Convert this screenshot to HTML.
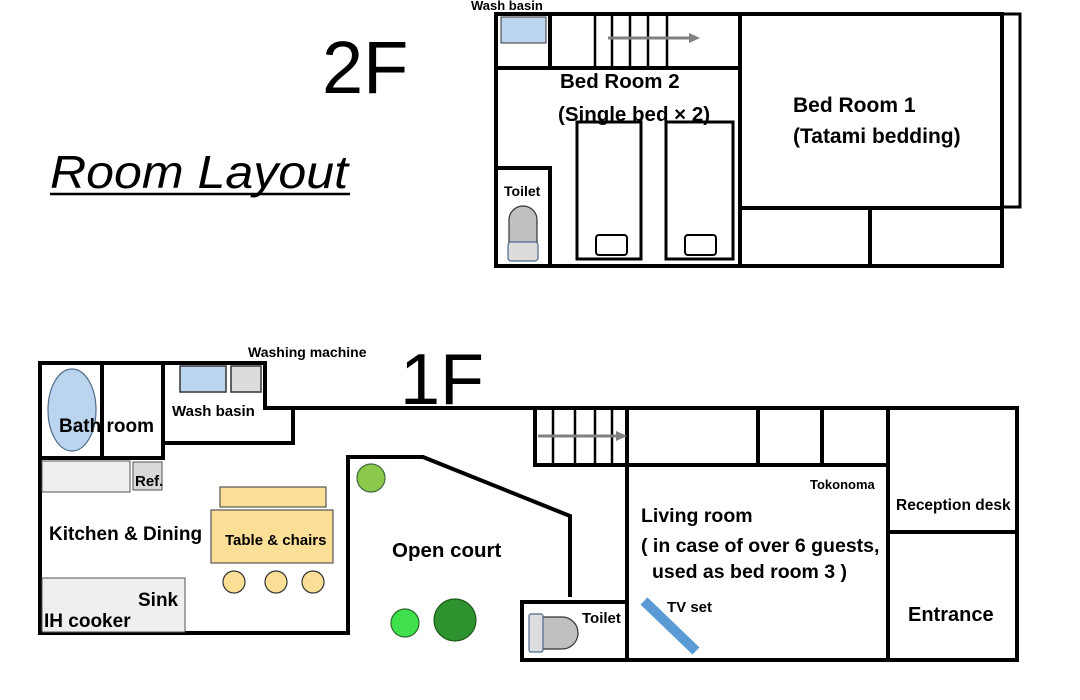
<!DOCTYPE html>
<html><head><meta charset="utf-8"><style>
html,body{margin:0;padding:0;background:#fff;}
svg{display:block;}
text{font-family:"Liberation Sans","DejaVu Sans",sans-serif;font-weight:bold;fill:#000;}
text.big{font-weight:normal;font-family:"Liberation Sans",sans-serif;}
</style></head><body>
<svg width="1080" height="700" viewBox="0 0 1080 700" xmlns="http://www.w3.org/2000/svg">
<g fill="none" stroke="#000" stroke-width="4">
<rect x="496" y="14" width="506" height="252"/>
<rect x="1002" y="14" width="18" height="193" stroke-width="3"/>
<line x1="550" y1="14" x2="550" y2="67"/>
<line x1="496" y1="68" x2="740" y2="68"/>
<line x1="740" y1="14" x2="740" y2="266"/>
<line x1="740" y1="208" x2="1002" y2="208"/>
<line x1="870" y1="208" x2="870" y2="266"/>
<polyline points="496,168 550,168 550,266"/>
<g stroke-width="2.5"><line x1="595" y1="14" x2="595" y2="67"/><line x1="612" y1="14" x2="612" y2="67"/><line x1="630" y1="14" x2="630" y2="67"/><line x1="648" y1="14" x2="648" y2="67"/><line x1="667" y1="14" x2="667" y2="67"/></g>
<rect x="577" y="122" width="64" height="137" stroke-width="3"/>
<rect x="666" y="122" width="67" height="137" stroke-width="3"/>
<rect x="596" y="235" width="31" height="20" rx="3" stroke-width="2"/>
<rect x="685" y="235" width="31" height="20" rx="3" stroke-width="2"/>
<polyline points="293,408 535,408"/>
<rect x="40" y="363" width="123" height="95"/>
<line x1="102" y1="363" x2="102" y2="458"/>
<polyline points="163,363 265,363 265,408 293,408 293,443 163,443"/>
<polyline points="40,458 40,633 348,633 348,457 423,457 570,516 570,597"/>
<rect x="535" y="408" width="92" height="57"/>
<g stroke-width="2.5"><line x1="553" y1="408" x2="553" y2="465"/><line x1="575" y1="408" x2="575" y2="465"/><line x1="595" y1="408" x2="595" y2="465"/><line x1="612" y1="408" x2="612" y2="465"/></g>
<rect x="627" y="408" width="261" height="57"/>
<line x1="758" y1="408" x2="758" y2="465"/>
<line x1="822" y1="408" x2="822" y2="465"/>
<rect x="627" y="465" width="261" height="195"/>
<rect x="888" y="408" width="129" height="252"/>
<line x1="888" y1="532" x2="1017" y2="532"/>
<rect x="522" y="602" width="105" height="58"/>
</g>
<rect x="501" y="17" width="45" height="26" fill="#bcd5ee" stroke="#333" stroke-width="1"/>
<line x1="608" y1="38" x2="690" y2="38" stroke="#808080" stroke-width="3"/>
<polygon points="689,33 700,38 689,43" fill="#808080"/>
<path d="M509,243 L509,220 A14,14 0 0 1 537,220 L537,243 Z" fill="#c0c0c0" stroke="#333" stroke-width="1.2"/>
<rect x="508" y="242" width="30" height="19" rx="3" fill="#dcdcdc" stroke="#4a6a8a" stroke-width="1.2"/>
<ellipse cx="72" cy="410" rx="24" ry="41" fill="#bcd5ee" stroke="#4a6a8a" stroke-width="1.2"/>
<rect x="180" y="366" width="46" height="26" fill="#bcd5ee" stroke="#333" stroke-width="1.5"/>
<rect x="231" y="366" width="30" height="26" fill="#dcdcdc" stroke="#333" stroke-width="1.5"/>
<rect x="42" y="461" width="88" height="31" fill="#efefef" stroke="#555" stroke-width="1"/>
<rect x="133" y="462" width="29" height="28" fill="#d9d9d9" stroke="#555" stroke-width="1"/>
<rect x="42" y="578" width="143" height="54" fill="#efefef" stroke="#555" stroke-width="1"/>
<rect x="220" y="487" width="106" height="20" fill="#fbdf96" stroke="#555" stroke-width="1.2"/>
<rect x="211" y="510" width="122" height="53" fill="#fbdf96" stroke="#555" stroke-width="1.2"/>
<circle cx="234" cy="582" r="11" fill="#fbdf96" stroke="#333" stroke-width="1.2"/>
<circle cx="276" cy="582" r="11" fill="#fbdf96" stroke="#333" stroke-width="1.2"/>
<circle cx="313" cy="582" r="11" fill="#fbdf96" stroke="#333" stroke-width="1.2"/>
<circle cx="371" cy="478" r="14" fill="#8cc84b" stroke="#3d6a3d" stroke-width="1.2"/>
<circle cx="405" cy="623" r="14" fill="#3fe04c" stroke="#2d6a2d" stroke-width="1.2"/>
<circle cx="455" cy="620" r="21" fill="#2e922e" stroke="#1d5a1d" stroke-width="1.2"/>
<line x1="538" y1="436" x2="617" y2="436" stroke="#808080" stroke-width="3"/>
<polygon points="616,431 627,436 616,441" fill="#808080"/>
<path d="M542,617 L562,617 A16,16 0 0 1 562,649 L542,649 Z" fill="#c0c0c0" stroke="#333" stroke-width="1.2"/>
<rect x="529" y="614" width="14" height="38" rx="2" fill="#dcdcdc" stroke="#4a6a8a" stroke-width="1.2"/>
<line x1="644" y1="601" x2="696" y2="651" stroke="#5b9bd5" stroke-width="10"/>
<text class="big" x="322" y="93" font-size="74">2F</text>
<text class="big" x="50" y="188" font-size="46" font-style="italic" textLength="298" lengthAdjust="spacingAndGlyphs">Room Layout</text>
<line x1="50" y1="194" x2="350" y2="194" stroke="#000" stroke-width="2.5"/>
<text x="471" y="10" font-size="13">Wash basin</text>
<text x="560" y="88" font-size="20.5">Bed Room 2</text>
<text x="558" y="121" font-size="20.5">(Single bed  × 2)</text>
<text x="793" y="112" font-size="21">Bed Room 1</text>
<text x="793" y="143" font-size="21">(Tatami bedding)</text>
<text x="504" y="196" font-size="14">Toilet</text>
<text class="big" x="400" y="404" font-size="72">1F</text>
<text x="248" y="357" font-size="14">Washing machine</text>
<text x="172" y="416" font-size="15">Wash basin</text>
<text x="59" y="432" font-size="19">Bath room</text>
<text x="135" y="486" font-size="15">Ref.</text>
<text x="49" y="540" font-size="19">Kitchen &amp; Dining</text>
<text x="225" y="545" font-size="15">Table &amp; chairs</text>
<text x="138" y="606" font-size="19">Sink</text>
<text x="44" y="627" font-size="19">IH cooker</text>
<text x="392" y="557" font-size="20.5">Open court</text>
<text x="582" y="623" font-size="15">Toilet</text>
<text x="667" y="612" font-size="15">TV set</text>
<text x="810" y="489" font-size="13">Tokonoma</text>
<text x="641" y="522" font-size="19.5">Living room</text>
<text x="641" y="552" font-size="19.5">( in case of over 6 guests,</text>
<text x="652" y="578" font-size="19.5">used as bed room 3 )</text>
<text x="896" y="510" font-size="15.5">Reception desk</text>
<text x="908" y="621" font-size="20">Entrance</text>
</svg>
</body></html>
